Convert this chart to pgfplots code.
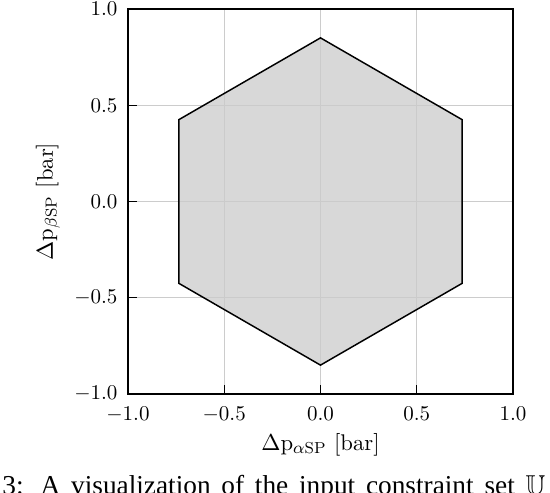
\documentclass[border=0pt]{standalone}
\usepackage{amssymb}
\usepackage{fontspec}
\newfontfamily\capfont{Liberation Serif}
\usepackage{pgfplots}
\pgfplotsset{compat=1.18}
\definecolor{gridc}{HTML}{CCCCCC}
\definecolor{hexfill}{HTML}{CBCBCB}
\begin{document}
\begin{tikzpicture}
\useasboundingbox (-60.95pt,-46.67pt) rectangle (200.95pt,187.62pt);
\clip (-60.95pt,-46.67pt) rectangle (200.95pt,187.62pt);
\begin{axis}[
  at={(0,0)}, anchor=south west,
  scale only axis, width=183.33pt, height=183.33pt,
  xmin=-1, xmax=1, ymin=-1, ymax=1,
  xtick={-1,-0.5,0,0.5,1}, ytick={-1,-0.5,0,0.5,1},
  tick pos=left, tick align=inside,
  major tick length=4.5pt,
  every tick/.style={black, line width=0.6pt},
  grid=major,
  grid style={color=gridc, line width=0.5pt},
  axis line style={line width=0.7pt},
  ticklabel style={font=\normalsize,
    /pgf/number format/fixed, /pgf/number format/fixed zerofill, /pgf/number format/precision=1},
  xticklabel style={yshift=-2.5pt},
  yticklabel style={xshift=-1.5pt},
  xlabel={$\Delta\mathrm{p}_{\alpha\mathrm{SP}}$ [bar]},
  ylabel={$\Delta\mathrm{p}_{\beta\mathrm{SP}}$ [bar]},
  label style={font=\fontsize{10.8pt}{13pt}\selectfont},
  xlabel style={yshift=1.5pt},
  ylabel style={yshift=0pt},
]
\addplot[draw=black, line width=0.7pt, fill=hexfill, fill opacity=0.75, draw opacity=1] coordinates {
  (0,0.85) (0.736,0.425) (0.736,-0.425) (0,-0.85) (-0.736,-0.425) (-0.736,0.425) (0,0.85)
} -- cycle;
\end{axis}
\node[anchor=base west, inner sep=0pt] at (-60pt,-47.9pt)
  {\capfont\fontsize{13pt}{15pt}\selectfont\makebox[258.5pt][s]{3: A visualization of the input constraint set $\mathbb{U}$}};
\end{tikzpicture}
\end{document}
